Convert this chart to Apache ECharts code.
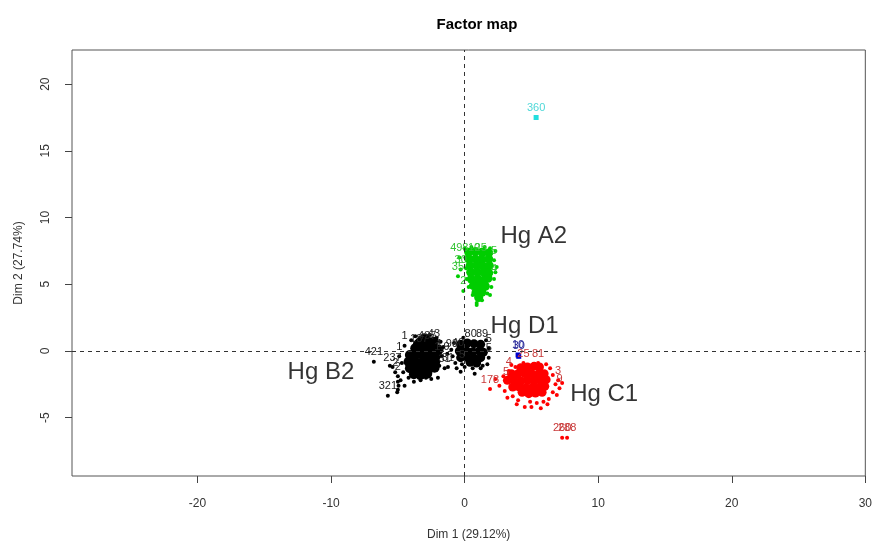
<!DOCTYPE html>
<html><head><meta charset="utf-8">
<script src="https://cdn.jsdelivr.net/npm/echarts@6/dist/echarts.min.js"></script>
<style>html,body{margin:0;padding:0;background:#fff}#c{width:875px;height:547px}</style>
</head><body><div id="c"></div>
<script>
const titleText = 'Factor map';
const xName = 'Dim 1 (29.12%)';
const yName = 'Dim 2 (27.74%)';
const xTicks = [-20, -10, 0, 10, 20, 30];
const yTicks = [-5, 0, 5, 10, 15, 20];
const groupNames = ['Hg B2', 'Hg D1', 'Hg A2', 'Hg C1'];
const groupAnchors = [[-13.26, -1.57], [1.94, 1.87], [2.68, 8.62], [7.9, -3.22]];

// Hg B2 (black) - dense core and individual points
const b2Core = [[-3.3,0.7],[-2.8,0.75],[-2.3,0.7],[-3.7,0.2],[-3.2,0.25],[-2.7,0.2],[-2.2,0.2],[-1.95,0.1],
  [-4.1,-0.3],[-3.6,-0.25],[-3.1,-0.3],[-2.6,-0.35],[-2.1,-0.3],[-4.2,-0.8],[-3.7,-0.8],[-3.2,-0.85],[-2.7,-0.8],[-2.2,-0.8],
  [-4.1,-1.3],[-3.6,-1.3],[-3.1,-1.35],[-2.6,-1.3],[-2.25,-1.25],[-3.8,-1.75],[-3.3,-1.8],[-2.8,-1.7],
  [-3.5,0.5],[-2.5,0.45],[-3.9,-0.55],[-2.9,-0.55],[-3.4,-1.05],[-2.4,-1.0],[-3.0,0.95],[-3.55,-1.55]];
const b2Points = [[-1.9,-1.1],[-1.7,-0.4,'1.9'],[-1.8,0.7],[-1.6,0.3],[-2.0,-2.0],[-2.5,-2.1],[-3.3,-2.2],[-3.8,-2.3],
  [-4.6,-1.6],[-4.7,-0.9],[-4.9,-0.4,'1'],[-4.5,0.4,'1'],[-4.0,0.8],[-3.7,1.1],[-3.4,0.2,'187'],[-2.8,0.4,'437'],[-2.3,0.6,'43'],
  [-2.6,1.2],[-2.1,1.0],[-5.2,-1.6,'2'],[-4.8,-2.2],[-5.0,-2.3],[-4.95,-2.6],[-5.0,-2.9],[-5.05,-3.1],[-4.5,-2.6],
  [-5.4,-1.2,'237'],[-5.6,-1.1],[-5.0,-1.9,'2'],[-6.8,-0.8,'421'],[-5.75,-3.35,'321'],[-4.2,-2.0],[-1.5,-1.3,'31'],[-2.9,-2.0],[-3.43,-2.0]];

// Hg D1 (black)
const d1Core = [[-0.3,0.5],[0.2,0.6],[0.7,0.55],[1.2,0.5],[-0.4,0.0],[0.1,0.05],[0.6,-0.05],[1.1,0.0],[1.4,-0.1],
  [-0.3,-0.5],[0.2,-0.5],[0.7,-0.55],[1.2,-0.5],[0.4,-0.85],[0.9,-0.9]];
const d1Points = [[-0.8,0.6],[-0.9,-0.4],[-1.0,0.1],[-0.7,-0.9],[-0.1,1.0],[0.45,0.6,'80'],[1.3,0.6,'89'],[1.6,0.8],
  [1.8,0.2,'5'],[1.8,-0.5,'5'],[1.7,-1.0],[1.2,-1.3],[0.6,-1.3],[0.0,-1.2],[-0.5,-0.1,'40'],[-1.3,-0.2,'1.93'],
  [-1.25,-1.2,'31'],[-0.2,-1.0,'5'],[-0.3,-1.55],[0.75,-1.7],[1.35,-1.1],[-0.6,-1.3]];

// Hg A2 (green)
const a2Core = [[0.3,7.4],[0.8,7.45],[1.3,7.4],[1.8,7.35],[0.3,6.9],[0.8,6.9],[1.3,6.85],[1.8,6.9],
  [0.4,6.4],[0.9,6.4],[1.4,6.35],[1.85,6.4],[0.45,5.9],[0.95,5.9],[1.45,5.9],[1.8,5.85],
  [0.5,5.4],[1.0,5.4],[1.5,5.35],[1.75,5.45],[0.65,4.9],[1.1,4.9],[1.55,4.85],[0.85,4.4],[1.3,4.4],[1.05,4.0]];
const a2Points = [[0.0,7.7],[2.3,7.5],[2.2,6.8,'5'],[2.4,6.3],[2.2,5.4,'4'],[2.0,4.8],[0.1,6.2],[0.15,5.4],[0.3,4.8],
  [0.6,4.2],[1.7,4.3],[0.9,3.6],[0.9,3.45],[1.3,3.8],[0.5,7.8],[1.5,7.8],[1.9,7.7],[0.05,7.0],[2.3,5.9],[1.9,4.2],
  [-0.4,7.0,'498'],[-0.3,6.1,'30'],[-0.5,5.6,'35'],[-0.1,4.5,'2'],[0.7,7.0,'10'],[1.2,7.0,'25']];

// Hg C1 (red)
const c1Core = [[4.2,-1.25],[4.7,-1.2],[5.2,-1.15],[5.6,-1.2],[3.5,-1.7],[4.0,-1.7],[4.5,-1.7],[5.0,-1.7],[5.5,-1.75],[5.95,-1.7],
  [3.2,-2.2],[3.7,-2.2],[4.2,-2.25],[4.7,-2.2],[5.2,-2.2],[5.7,-2.2],[6.1,-2.15],
  [3.6,-2.7],[4.1,-2.7],[4.6,-2.75],[5.1,-2.7],[5.6,-2.7],[6.0,-2.65],[4.3,-3.1],[4.8,-3.2],[5.3,-3.15],[5.8,-3.1]];
const c1Points = [[2.9,-1.9],[2.6,-2.6],[3.0,-3.0],[3.2,-3.5],[3.6,-3.4],[4.0,-3.7],[4.5,-4.2],[5.0,-4.2],[5.4,-3.9],
  [5.9,-3.8],[6.3,-3.6],[6.6,-3.1],[6.9,-3.3],[7.1,-2.8,'9'],[7.0,-2.2,'3'],[6.6,-1.8],[6.4,-1.3],[6.1,-1.0],[3.8,-1.2],
  [3.3,-1.5,'4'],[3.1,-2.3,'5'],[5.5,-0.9,'81'],[4.4,-0.9,'25'],[2.3,-2.1],[6.2,-4.0],[4.9,-3.8],[3.9,-4.0],[5.7,-4.3],
  [6.8,-2.5],[7.3,-2.4],[3.5,-1.05],[1.9,-2.85,'178'],[7.3,-6.5,'260'],[7.67,-6.5,'288']];

// other individuals
const bluePoints = [[4.05,-0.4,'30'],[4.0,-0.3,'10']];
const cyanPoints = [[5.35,17.5,'360']];

const FONT = '"Liberation Sans", Arial, sans-serif';

function pts(name, data, color, labelColor, size, symbol) {
  return {
    name, type: 'scatter', data, symbol: symbol || 'circle', symbolSize: size,
    itemStyle: { color, opacity: 1 }, z: 3,
    label: { show: true, position: 'top', distance: 2, fontSize: 11, fontFamily: FONT, color: labelColor,
      formatter: p => p.data[2] || '' },
    emphasis: { disabled: true }, animation: false
  };
}

const series = [
  { type: 'scatter', data: [], silent: true,
    markLine: { silent: true, symbol: 'none', label: { show: false },
      lineStyle: { color: '#333', width: 1, type: [4, 4] },
      data: [{ xAxis: 0 }, { yAxis: 0 }] } },
  pts('b2c', b2Core, '#000', '#222', 10),
  pts('d1c', d1Core, '#000', '#222', 9),
  pts('a2c', a2Core, '#00cd00', '#33c433', 9),
  pts('c1c', c1Core, '#ff0000', '#c83838', 9),
  pts('b2', b2Points, '#000', '#222', 4),
  pts('d1', d1Points, '#000', '#222', 4),
  pts('a2', a2Points, '#00cd00', '#33c433', 4),
  pts('c1', c1Points, '#ff0000', '#c83838', 4),
  pts('blue', bluePoints, '#0000cc', '#2a2a9a', 5, 'rect'),
  pts('cyan', cyanPoints, '#22dede', '#4fd8d8', 5, 'rect'),
  { type: 'scatter', symbolSize: 0, silent: true, z: 5,
    data: groupNames.map((n, i) => ({ name: n, value: groupAnchors[i] })),
    label: { show: true, position: 'right', distance: 0, fontSize: 24, fontFamily: FONT, color: '#000',
      formatter: p => p.name } }
];

const chart = echarts.init(document.getElementById('c'), null, { renderer: 'canvas' });
chart.setOption({
  animation: false,
  backgroundColor: '#fff',
  title: { text: titleText, left: 472, top: 12, textAlign: 'center',
    textStyle: { fontSize: 15, fontWeight: 'bold', fontFamily: FONT, color: '#000' } },
  grid: { left: 72, right: 6.4, top: 50, bottom: 71, show: true, borderColor: '#555', borderWidth: 1, backgroundColor: 'transparent' },
  xAxis: { type: 'value', min: -29.4, max: 30, name: xName, nameLocation: 'middle', nameGap: 53,
    nameTextStyle: { fontSize: 12, fontFamily: FONT, color: '#333' },
    axisLine: { show: false, onZero: false }, splitLine: { show: false },
    axisTick: { show: true, length: 7, customValues: xTicks, lineStyle: { color: '#444' } },
    axisLabel: { customValues: xTicks, margin: 22, fontSize: 12, fontFamily: FONT, color: '#333' } },
  yAxis: { type: 'value', min: -9.37, max: 22.56, name: yName, nameLocation: 'middle', nameGap: 47, nameRotate: 90,
    nameTextStyle: { fontSize: 12, fontFamily: FONT, color: '#333' },
    axisLine: { show: false, onZero: false }, splitLine: { show: false },
    axisTick: { show: true, length: 7, customValues: yTicks, lineStyle: { color: '#444' } },
    axisLabel: { customValues: yTicks, rotate: 90, margin: 20, fontSize: 12, fontFamily: FONT, color: '#333' } },
  series
});
</script></body></html>
